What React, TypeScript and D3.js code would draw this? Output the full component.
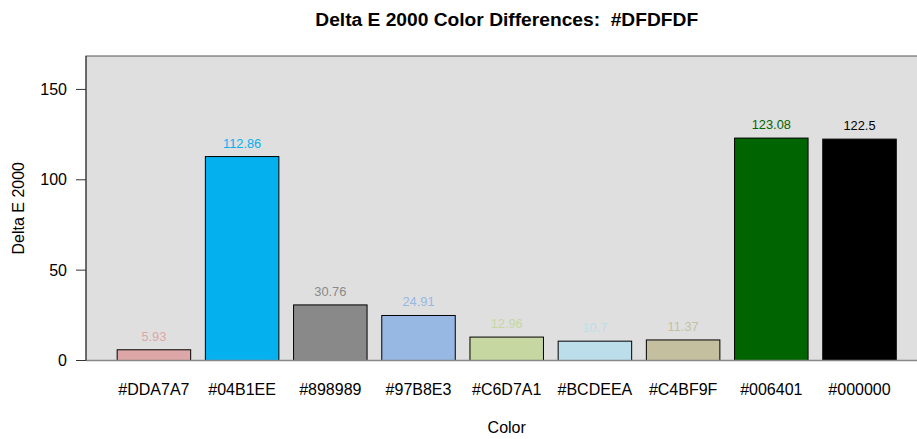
import React from "react";
import * as d3 from "d3";

const categories = ["#DDA7A7", "#04B1EE", "#898989", "#97B8E3", "#C6D7A1", "#BCDEEA", "#C4BF9F", "#006401", "#000000"];
const values = [5.93, 112.86, 30.76, 24.91, 12.96, 10.7, 11.37, 123.08, 122.5];
const valueLabels = ["5.93", "112.86", "30.76", "24.91", "12.96", "10.7", "11.37", "123.08", "122.5"];
const yTicks = [0, 50, 100, 150];
const title = "Delta E 2000 Color Differences:  #DFDFDF";

const W = 917;
const H = 439;
const font = "'Liberation Sans', Arial, Helvetica, sans-serif";

export default function App() {
  // plot region in R barplot units: bars at 0.2 + i*1.2, width 1; xlim with 4% expansion
  const n = categories.length;
  const uMin = 0.2, uMax = n * 1.2;
  const ext = (uMax - uMin) * 0.04;
  const x = d3.scaleLinear().domain([uMin - ext, uMax + ext]).range([86, 86 + (uMax - uMin + 2 * ext) * 73.5]);
  const y = d3.scaleLinear().domain([0, 168.5]).range([360.5, 56]);
  const left = x(uMin - ext);
  const top = y(168.5);
  const bottom = y(0);

  return (
    <svg width={W} height={H} style={{ position: "absolute", left: 0, top: 0 }} fontFamily={font}>
      <rect x={0} y={0} width={W} height={H} fill="#ffffff" />
      <rect x={left} y={top} width={W - left + 20} height={bottom - top} fill="#DFDFDF" stroke="#555" strokeWidth={1} />
      {categories.map((c, i) => {
        const x0 = x(0.2 + i * 1.2);
        const x1 = x(1.2 + i * 1.2);
        return (
          <g key={c}>
            <rect x={x0} y={y(values[i])} width={x1 - x0} height={bottom - y(values[i])} fill={c} stroke="#000" strokeWidth={1} />
            <text x={(x0 + x1) / 2} y={y(values[i]) - 9} textAnchor="middle" fontSize={12.8} fill={c}>{valueLabels[i]}</text>
            <text x={(x0 + x1) / 2} y={395} textAnchor="middle" fontSize={16} fill="#000">{c}</text>
          </g>
        );
      })}
      <line x1={left} x2={W} y1={bottom} y2={bottom} stroke="#888" strokeWidth={1.5} />
      <line x1={left} x2={left} y1={top} y2={bottom} stroke="#333" strokeWidth={1} />
      {yTicks.map((t) => (
        <g key={t}>
          <line x1={76} x2={left} y1={y(t)} y2={y(t)} stroke="#333" strokeWidth={1} />
          <text x={67} y={y(t) + 5.5} textAnchor="end" fontSize={16} fill="#000">{t}</text>
        </g>
      ))}
      <text x={(left + x(uMax + ext)) / 2} y={26} textAnchor="middle" fontSize={19.2} fontWeight="bold" fill="#000" style={{ whiteSpace: "pre" }}>{title}</text>
      <text x={(left + x(uMax + ext)) / 2} y={433} textAnchor="middle" fontSize={16} fill="#000">Color</text>
      <text transform={`translate(24, ${(top + bottom) / 2}) rotate(-90)`} textAnchor="middle" fontSize={16} fill="#000">Delta E 2000</text>
    </svg>
  );
}
